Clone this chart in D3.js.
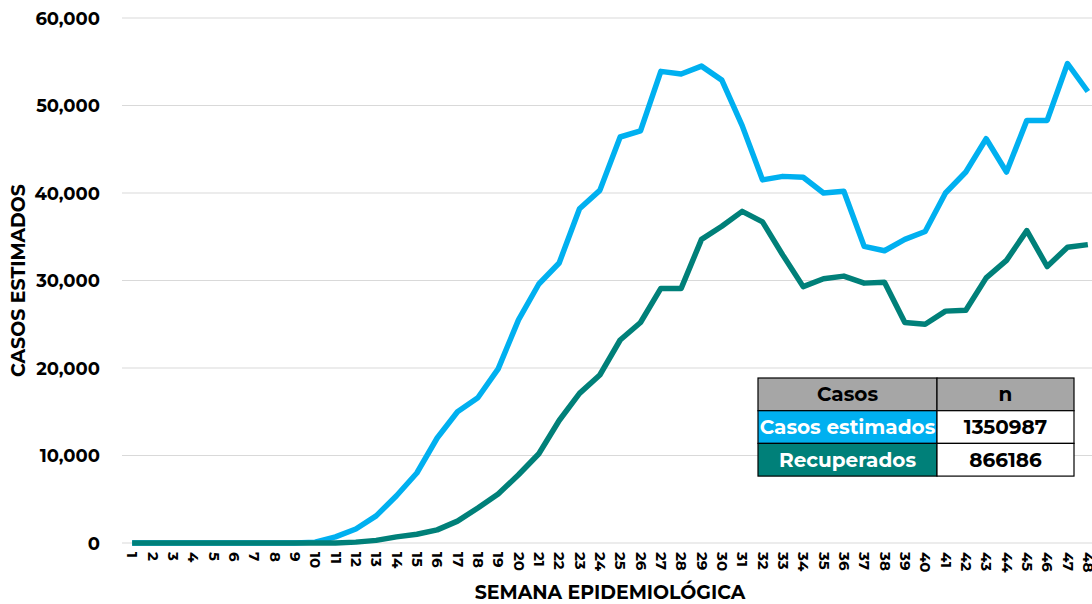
<!DOCTYPE html>
<html lang="es">
<head>
<meta charset="utf-8">
<title>Casos estimados y recuperados</title>
<style>
  body { margin: 0; background: #fff; }
  svg text { font-family: "Montserrat", "Open Sans", "DejaVu Sans", sans-serif; font-weight: 700; }
</style>
</head>
<body>
<script src="https://cdn.jsdelivr.net/npm/d3@7"></script>
<script>

var w = 1092;
var h = 604;

// semanas epidemiologicas 1..48
var semanas = d3.range(1, 49);

var estimados = [0, 0, 0, 0, 0, 0, 0, 0, 0, 100, 700, 1600, 3100, 5400, 8000, 12000,
    15000, 16600, 19900, 25500, 29600, 32000, 38200, 40300, 46400, 47100, 53900, 53600,
    54500, 52900, 47700, 41500, 41900, 41800, 40000, 40200, 33900, 33400, 34700, 35600,
    40000, 42400, 46200, 42400, 48300, 48300, 54800, 51600];

var recuperados = [0, 0, 0, 0, 0, 0, 0, 0, 0, 0, 0, 100, 300, 700, 1000, 1500,
    2500, 4000, 5600, 7800, 10200, 14000, 17100, 19200, 23200, 25200, 29100, 29100,
    34700, 36200, 37900, 36700, 32900, 29300, 30200, 30500, 29700, 29800, 25200, 25000,
    26500, 26600, 30300, 32300, 35700, 31600, 33800, 34100];

var yTicks = [0, 10000, 20000, 30000, 40000, 50000, 60000];

// tabla resumen
var tablaHeader = ["Casos", "n"];
var tablaNombres = ["Casos estimados", "Recuperados"];
var tablaTotales = [1350987, 866186];

var colorEst = "#00b0f0";
var colorRec = "#008079";

var pLeft = 122, pRight = 1098, pTop = 18, pBottom = 543;

var svg = d3.select("body").append("svg")
    .attr("width", w)
    .attr("height", h);

var x = d3.scalePoint()
    .domain(semanas)
    .range([pLeft, pRight])
    .padding(0.5);

var y = d3.scaleLinear()
    .domain([0, 60000])
    .range([pBottom, pTop]);

// gridlines
svg.append("g")
    .selectAll("line")
    .data(yTicks)
    .enter()
    .append("line")
    .attr("x1", pLeft)
    .attr("x2", w)
    .attr("y1", function(d) { return y(d); })
    .attr("y2", function(d) { return y(d); })
    .attr("stroke", "#d9d9d9")
    .attr("stroke-width", 1);

// eje y
var yAxis = svg.append("g")
    .attr("transform", "translate(" + (pLeft - 19) + ",0)")
    .call(d3.axisLeft(y).tickValues(yTicks).tickSize(0).tickFormat(d3.format(",")));
yAxis.select(".domain").remove();
yAxis.selectAll("text")
    .attr("fill", "#000")
    .style("font-size", "18px")
    .attr("dy", "0.35em");

// eje x
var xAxis = svg.append("g")
    .attr("transform", "translate(0," + pBottom + ")")
    .call(d3.axisBottom(x).tickSize(0));
xAxis.select(".domain").remove();
xAxis.selectAll("text")
    .attr("fill", "#000")
    .style("font-size", "15px")
    .attr("transform", "rotate(90)")
    .attr("x", 9)
    .attr("y", 0)
    .attr("dy", "0.35em")
    .style("text-anchor", "start");

// lineas
var line = d3.line()
    .x(function(d, i) { return x(semanas[i]); })
    .y(function(d) { return y(d); });

svg.append("path")
    .datum(estimados)
    .attr("d", line)
    .attr("fill", "none")
    .attr("stroke", colorEst)
    .attr("stroke-width", 5.5)
    .attr("stroke-linejoin", "round");

svg.append("path")
    .datum(recuperados)
    .attr("d", line)
    .attr("fill", "none")
    .attr("stroke", colorRec)
    .attr("stroke-width", 5.5)
    .attr("stroke-linejoin", "round");

// titulos de ejes
svg.append("text")
    .attr("transform", "translate(25," + ((pTop + pBottom) / 2) + ") rotate(-90)")
    .attr("text-anchor", "middle")
    .style("font-size", "19px")
    .text("CASOS ESTIMADOS");

svg.append("text")
    .attr("x", 610)
    .attr("y", 599)
    .attr("text-anchor", "middle")
    .style("font-size", "19px")
    .text("SEMANA EPIDEMIOLÓGICA");

// tabla
var tx = 758, tcol = 937, tx2 = 1074, ty = 378, rh = 32.7;
var tabla = svg.append("g");
var filas = [
    { a: tablaHeader[0], b: tablaHeader[1], fill: "#a6a6a6", color: "#000", bfill: "#a6a6a6" },
    { a: tablaNombres[0], b: tablaTotales[0], fill: colorEst, color: "#fff", bfill: "#fff" },
    { a: tablaNombres[1], b: tablaTotales[1], fill: colorRec, color: "#fff", bfill: "#fff" }
];
filas.forEach(function(f, i) {
    var yy = ty + i * rh;
    tabla.append("rect").attr("x", tx).attr("y", yy).attr("width", tcol - tx).attr("height", rh)
        .attr("fill", f.fill).attr("stroke", "#000").attr("stroke-width", 1.2);
    tabla.append("rect").attr("x", tcol).attr("y", yy).attr("width", tx2 - tcol).attr("height", rh)
        .attr("fill", f.bfill).attr("stroke", "#000").attr("stroke-width", 1.2);
    tabla.append("text").attr("x", (tx + tcol) / 2).attr("y", yy + rh / 2).attr("dy", "0.35em")
        .attr("text-anchor", "middle").attr("fill", f.color).style("font-size", "20px").text(f.a);
    tabla.append("text").attr("x", (tcol + tx2) / 2).attr("y", yy + rh / 2).attr("dy", "0.35em")
        .attr("text-anchor", "middle").attr("fill", "#000").style("font-size", "20px").text(f.b);
});

</script>
</body>
</html>
